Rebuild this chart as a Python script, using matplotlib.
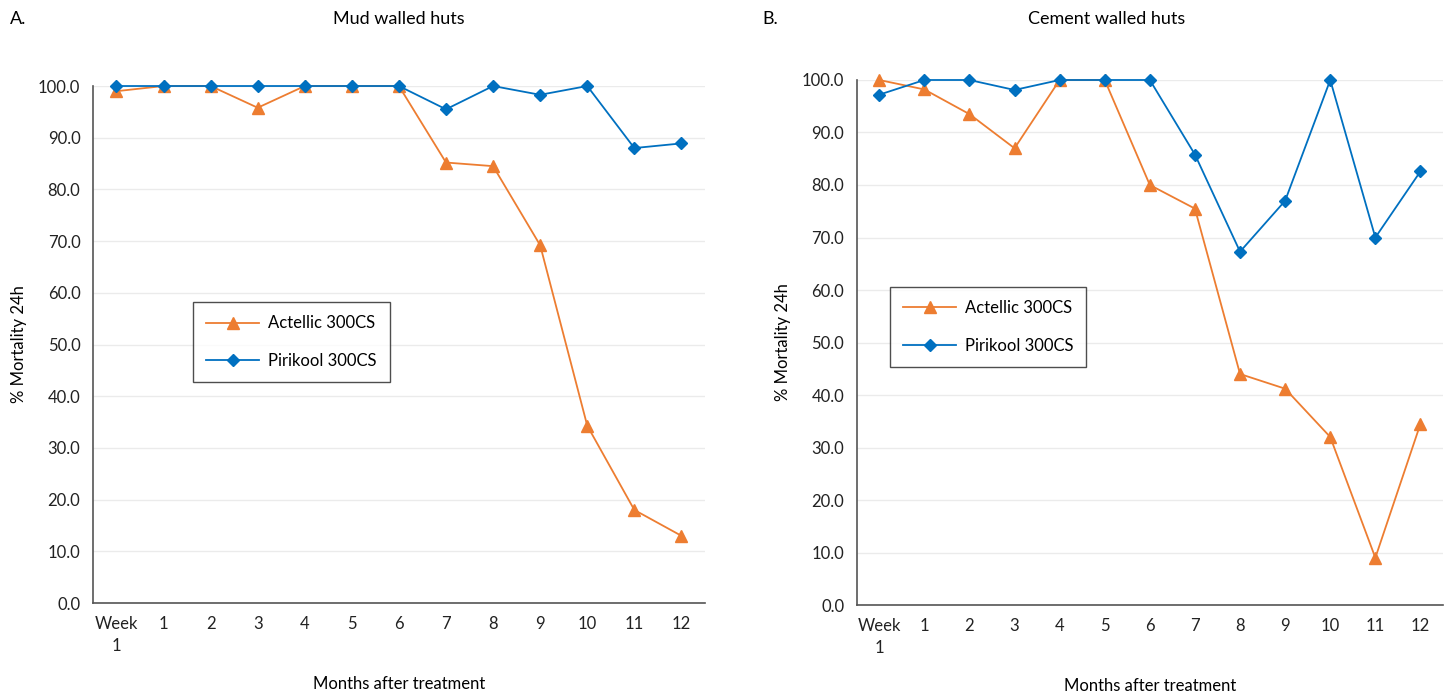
import numpy as np
import matplotlib.pyplot as plt

plt.rcParams['font.family'] = ['Lato', 'DejaVu Sans']

x_labels = ["Week\n1", "1", "2", "3", "4", "5", "6", "7", "8", "9", "10", "11", "12"]

# A. mud walled huts
mud_actellic = [99.0, 100.0, 100.0, 95.8, 100.0, 100.0, 100.0, 85.2, 84.5, 69.2, 34.3, 18.0, 13.0]
mud_pirikool = [100.0, 100.0, 100.0, 100.0, 100.0, 100.0, 100.0, 95.5, 100.0, 98.3, 100.0, 88.0, 88.9]

# B. cement walled huts
cem_actellic = [100.0, 98.2, 93.5, 87.0, 100.0, 100.0, 80.0, 75.5, 44.0, 41.2, 32.0, 9.0, 34.5]
cem_pirikool = [97.2, 100.0, 100.0, 98.1, 100.0, 100.0, 100.0, 85.8, 67.3, 77.0, 100.0, 70.0, 82.6]

orange = '#ED7D31'
blue = '#0070C0'

fig = plt.figure(figsize=(14.52, 6.92), dpi=100)
ax1 = fig.add_axes([0.064, 0.1286, 0.4215, 0.7471])
ax2 = fig.add_axes([0.590, 0.1257, 0.4038, 0.7587])


def draw(ax, act, pir, leg_pos):
    x = np.arange(len(x_labels))
    ax.plot(x, act, color=orange, marker='^', markersize=8, lw=1.3, label='Actellic 300CS', clip_on=False, zorder=3)
    ax.plot(x, pir, color=blue, marker='D', markersize=6, lw=1.3, label='Pirikool 300CS', clip_on=False, zorder=4)
    ax.set_xlim(-0.5, 12.5)
    ax.set_ylim(0, 100)
    ax.set_yticks(np.arange(0, 101, 10))
    ax.set_yticklabels([f"{v:.1f}" for v in np.arange(0, 101, 10)])
    ax.set_xticks(x)
    ax.set_xticklabels(x_labels, linespacing=1.5)
    ax.tick_params(length=0, labelsize=12, colors='#222222', pad=9)
    ax.grid(axis='y', color='#EBEBEB', lw=1)
    ax.set_axisbelow(True)
    ax.spines['top'].set_visible(False)
    ax.spines['right'].set_visible(False)
    ax.spines['left'].set_color('#555555')
    ax.spines['bottom'].set_color('#555555')
    ax.spines['left'].set_linewidth(1.2)
    ax.spines['bottom'].set_linewidth(1.2)
    ax.set_ylabel('% Mortality 24h', fontsize=12, labelpad=8)
    ax.set_xlabel('Months after treatment', fontsize=12, labelpad=16)
    leg = ax.legend(loc='upper left', bbox_to_anchor=leg_pos, fontsize=12, frameon=True, fancybox=False,
                    edgecolor='#222222', borderpad=0.8, labelspacing=1.3, handlelength=3.2,
                    handletextpad=0.5, borderaxespad=0)
    leg.get_frame().set_linewidth(1.0)


draw(ax1, mud_actellic, mud_pirikool, (0.163, 0.582))
draw(ax2, cem_actellic, cem_pirikool, (0.056, 0.606))

fig.text(0.007, 0.972, 'A.', fontsize=13, va='center')
fig.text(0.275, 0.972, 'Mud walled huts', fontsize=13, va='center', ha='center')
fig.text(0.525, 0.972, 'B.', fontsize=13, va='center')
fig.text(0.762, 0.972, 'Cement walled huts', fontsize=13, va='center', ha='center')

fig.savefig('out.png', dpi=100)
